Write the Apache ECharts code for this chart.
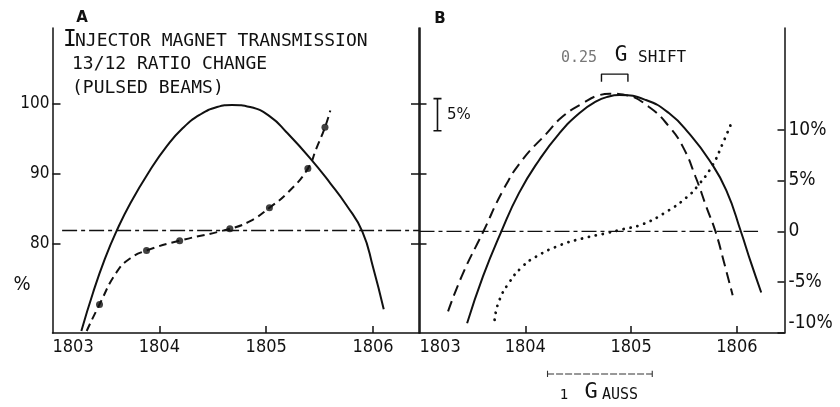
<!DOCTYPE html>
<html>
<head>
<meta charset="utf-8">
<script src="https://cdn.jsdelivr.net/npm/echarts@6/dist/echarts.min.js"></script>
<style>
html,body{margin:0;padding:0;background:#fff;}
#chart{width:840px;height:407px;}
</style>
</head>
<body>
<div id="chart"></div>
<script>
// ---- data ----
const xTicks = [1803, 1804, 1805, 1806];
const leftTicks = [80, 90, 100];
const rightTicks = [-10, -5, 0, 5, 10];

// Panel A: injector magnet transmission (solid, %)
const solidA = [[1803.27,67.5],[1803.38,73.0],[1803.49,77.8],[1803.60,81.8],[1803.73,85.8],[1803.91,90.4],[1804.07,93.9],[1804.22,96.5],[1804.38,98.4],[1804.54,99.5],[1804.68,99.8],[1804.85,99.5],[1805.04,98.1],[1805.19,95.9],[1805.41,92.2],[1805.60,88.6],[1805.75,85.5],[1805.90,81.7],[1806.00,76.6],[1806.10,70.6]];
// Panel A: 13/12 ratio change (dashed curve and measured points)
const dashedA = [[1803.32,67.5],[1803.44,71.3],[1803.60,75.9],[1803.73,77.9],[1803.88,79.0],[1804.19,80.4],[1804.66,82.1],[1804.85,83.2],[1805.03,85.1],[1805.21,87.4],[1805.39,90.7],[1805.47,93.6],[1805.55,96.6],[1805.60,99.0]];
const pointsA = [[1803.44,71.3],[1803.88,79.0],[1804.19,80.4],[1804.66,82.1],[1805.03,85.1],[1805.39,90.7],[1805.55,96.6]];
const refLevelA = 81.85;
const refSpanA = [1803.09, 1806.43];

// Panel B: transmission curves (left scale) and ratio change (right scale, %)
const solidB = [[1803.45,68.6],[1803.60,75.3],[1803.77,81.6],[1803.94,87.2],[1804.13,91.9],[1804.32,95.7],[1804.51,98.6],[1804.67,100.3],[1804.79,101.0],[1804.89,101.2],[1805.14,100.5],[1805.36,98.6],[1805.55,95.7],[1805.74,91.9],[1805.90,87.6],[1806.04,81.6],[1806.13,77.4],[1806.23,73.0]];
const dashedB = [[1803.27,70.3],[1803.41,75.7],[1803.60,81.6],[1803.79,87.6],[1803.97,91.9],[1804.20,95.7],[1804.35,98.1],[1804.54,100.0],[1804.70,101.2],[1804.80,101.4],[1804.95,101.2],[1805.17,99.5],[1805.36,96.7],[1805.49,93.8],[1805.61,89.5],[1805.71,85.3],[1805.80,81.6],[1805.88,77.2],[1805.96,72.6]];
const dottedB = [[1803.71,-8.7],[1803.75,-6.9],[1803.85,-5.0],[1803.97,-3.5],[1804.10,-2.5],[1804.32,-1.4],[1804.54,-0.7],[1804.76,-0.2],[1804.92,0.2],[1805.11,0.7],[1805.33,1.9],[1805.52,3.3],[1805.64,4.6],[1805.77,6.5],[1805.86,8.5],[1805.95,10.7]];
const refLevelB = 0;
const refSpanB = [1803.0, 1806.2];

// annotation scale marks (data units)
const bar5 = {x: 1803.17, y0: 96.1, y1: 100.7, cap: 0.038};
const shiftBracket = {x0: 1804.72, x1: 1804.97, yTop: 104.2, yLeg: 103.1};
const gaussBar = {x0: 1804.21, x1: 1805.2, y: 61.36, leg: 0.45};

// ---- chart ----
const NUM_FONT = '"DejaVu Sans Condensed","Liberation Sans Narrow",sans-serif';
const MONO = '"DejaVu Sans Mono",monospace';
const chart = echarts.init(document.getElementById('chart'), null, {renderer: 'canvas'});

const black = '#111';
const GRID_TOP = 28, GRID_H = 305;

function xAxisCfg(gridIndex) {
  return {
    type: 'value', gridIndex, min: 1803, max: gridIndex === 0 ? 1806.43 : 1806.45,
    axisLine: {show: true, onZero: false, lineStyle: {color: black, width: 1.5}},
    axisTick: {show: true, inside: true, length: 7, customValues: xTicks.slice(1), lineStyle: {color: black, width: 1.5}},
    axisLabel: {show: true, customValues: xTicks, alignMinLabel: 'left', margin: 5, color: black, fontSize: 18, fontFamily: NUM_FONT,
      formatter: v => String(v)},
    splitLine: {show: false}
  };
}

const option = {
  animation: false,
  backgroundColor: '#fff',
  grid: [
    {left: 52.5, top: GRID_TOP, width: 366.5, height: GRID_H, containLabel: false, outerBoundsMode: 'none'},
    {left: 419.5, top: GRID_TOP, width: 365, height: GRID_H, containLabel: false, outerBoundsMode: 'none'}
  ],
  xAxis: [xAxisCfg(0), xAxisCfg(1)],
  yAxis: [
    { // panel A left, labelled
      type: 'value', gridIndex: 0, position: 'left', min: 67.21, max: 110.79,
      axisLine: {show: true, lineStyle: {color: black, width: 1.5}},
      axisTick: {show: true, inside: true, length: 8, customValues: leftTicks, lineStyle: {color: black, width: 1.5}},
      axisLabel: {show: true, customValues: leftTicks, margin: 3, color: black, fontSize: 17, fontFamily: NUM_FONT},
      splitLine: {show: false}
    },
    { // panel A right edge (shared line), ticks pointing left
      type: 'value', gridIndex: 0, position: 'right', min: 67.21, max: 110.79,
      axisLine: {show: true, lineStyle: {color: black, width: 1.5}},
      axisTick: {show: true, inside: true, length: 8, customValues: leftTicks, lineStyle: {color: black, width: 1.5}},
      axisLabel: {show: false},
      splitLine: {show: false}
    },
    { // panel B left, ticks pointing right
      type: 'value', gridIndex: 1, position: 'left', min: 67.21, max: 110.79,
      axisLine: {show: true, lineStyle: {color: black, width: 1.5}},
      axisTick: {show: true, inside: true, length: 7, customValues: leftTicks, lineStyle: {color: black, width: 1.5}},
      axisLabel: {show: false},
      splitLine: {show: false}
    },
    { // panel B right, percent
      type: 'value', gridIndex: 1, position: 'right', min: -10, max: 20,
      axisLine: {show: true, lineStyle: {color: black, width: 1.5}},
      axisTick: {show: true, inside: true, length: 7, customValues: rightTicks, lineStyle: {color: black, width: 1.5}},
      axisLabel: {show: true, customValues: rightTicks, margin: 4, color: black, fontSize: 19, fontFamily: NUM_FONT,
        verticalAlignMinLabel: 'bottom',
        formatter: v => v === 0 ? '0' : v + '%'},
      splitLine: {show: false}
    }
  ],
  series: [
    {type: 'line', name: 'solidA', xAxisIndex: 0, yAxisIndex: 0, data: solidA, smooth: 0.5, symbol: 'none',
      lineStyle: {color: black, width: 2}},
    {type: 'line', name: 'dashedA', xAxisIndex: 0, yAxisIndex: 0, data: dashedA, smooth: 0.5, symbol: 'none',
      lineStyle: {color: black, width: 2, type: [8, 5]}},
    {type: 'scatter', name: 'pointsA', xAxisIndex: 0, yAxisIndex: 0, data: pointsA, symbol: 'circle', symbolSize: 7,
      itemStyle: {color: black}},
    {type: 'line', name: 'refA', xAxisIndex: 0, yAxisIndex: 0, data: refSpanA.map(x => [x, refLevelA]), symbol: 'none',
      lineStyle: {color: black, width: 1.4, type: [15, 4, 4, 4]}},
    {type: 'line', name: 'solidB', xAxisIndex: 1, yAxisIndex: 2, data: solidB, smooth: 0.5, symbol: 'none',
      lineStyle: {color: black, width: 2}},
    {type: 'line', name: 'dashedB', xAxisIndex: 1, yAxisIndex: 2, data: dashedB, smooth: 0.5, symbol: 'none',
      lineStyle: {color: black, width: 2, type: [11, 6]}},
    {type: 'line', name: 'dottedB', xAxisIndex: 1, yAxisIndex: 3, data: dottedB, smooth: 0.5, symbol: 'none',
      lineStyle: {color: black, width: 2.8, type: [0.1, 7], cap: 'round'}},
    {type: 'line', name: 'refB', xAxisIndex: 1, yAxisIndex: 3, data: refSpanB.map(x => [x, refLevelB]), symbol: 'none',
      lineStyle: {color: black, width: 1.4, type: [15, 4, 4, 4]}},
    {type: 'line', name: 'bar5', xAxisIndex: 1, yAxisIndex: 2, symbol: 'none',
      data: [[bar5.x - bar5.cap, bar5.y1], [bar5.x + bar5.cap, bar5.y1], [bar5.x, bar5.y1], [bar5.x, bar5.y0], [bar5.x - bar5.cap, bar5.y0], [bar5.x + bar5.cap, bar5.y0]],
      lineStyle: {color: black, width: 1.6}},
    {type: 'line', name: 'shift', xAxisIndex: 1, yAxisIndex: 2, symbol: 'none', clip: false,
      data: [[shiftBracket.x0, shiftBracket.yLeg], [shiftBracket.x0, shiftBracket.yTop], [shiftBracket.x1, shiftBracket.yTop], [shiftBracket.x1, shiftBracket.yLeg]],
      lineStyle: {color: black, width: 1.4}},
    {type: 'line', name: 'gauss', xAxisIndex: 1, yAxisIndex: 2, symbol: 'none', clip: false,
      data: [[gaussBar.x0, gaussBar.y + gaussBar.leg], [gaussBar.x0, gaussBar.y - gaussBar.leg], [gaussBar.x0, gaussBar.y], [gaussBar.x1, gaussBar.y], [gaussBar.x1, gaussBar.y + gaussBar.leg], [gaussBar.x1, gaussBar.y - gaussBar.leg]],
      lineStyle: {color: '#333', width: 1.1, type: [7, 2]}}
  ],
  graphic: [
    {type: 'text', x: 82, y: 18, style: {text: 'A', font: 'bold 15px "DejaVu Sans"', fill: black, textAlign: 'center', textVerticalAlign: 'middle'}},
    {type: 'text', x: 440, y: 19, style: {text: 'B', font: 'bold 15px "DejaVu Sans"', fill: black, textAlign: 'center', textVerticalAlign: 'middle'}},
    {type: 'text', x: 70, y: 40, style: {text: 'I', font: '23px ' + MONO, fill: black, textAlign: 'center', textVerticalAlign: 'middle'}},
    {type: 'text', x: 75, y: 41, style: {text: 'NJECTOR MAGNET TRANSMISSION', font: '18px ' + MONO, fill: black, textAlign: 'left', textVerticalAlign: 'middle'}},
    {type: 'text', x: 72, y: 64, style: {text: '13/12 RATIO CHANGE', font: '18px ' + MONO, fill: black, textAlign: 'left', textVerticalAlign: 'middle'}},
    {type: 'text', x: 72, y: 88, style: {text: '(PULSED BEAMS)', font: '18px ' + MONO, fill: black, textAlign: 'left', textVerticalAlign: 'middle'}},
    {type: 'text', x: 22, y: 285, style: {text: '%', font: '20px ' + NUM_FONT, fill: black, textAlign: 'center', textVerticalAlign: 'middle'}},
    {type: 'text', x: 447, y: 115, style: {text: '5%', font: '15px "DejaVu Sans"', fill: black, textAlign: 'left', textVerticalAlign: 'middle'}},
    {type: 'text', x: 561, y: 58, style: {text: '0.25', font: '15px ' + MONO, fill: '#777', textAlign: 'left', textVerticalAlign: 'middle'}},
    {type: 'text', x: 621, y: 56, style: {text: 'G', font: '21px ' + MONO, fill: black, textAlign: 'center', textVerticalAlign: 'middle'}},
    {type: 'text', x: 638, y: 58, style: {text: 'SHIFT', font: '16px ' + MONO, fill: black, textAlign: 'left', textVerticalAlign: 'middle'}},
    {type: 'text', x: 564, y: 395, style: {text: '1', font: '14px ' + MONO, fill: black, textAlign: 'center', textVerticalAlign: 'middle'}},
    {type: 'text', x: 591, y: 392, style: {text: 'G', font: '22px ' + MONO, fill: black, textAlign: 'center', textVerticalAlign: 'middle'}},
    {type: 'text', x: 602, y: 395, style: {text: 'AUSS', font: '15px ' + MONO, fill: black, textAlign: 'left', textVerticalAlign: 'middle'}}
  ]
};
chart.setOption(option);
</script>
</body>
</html>
